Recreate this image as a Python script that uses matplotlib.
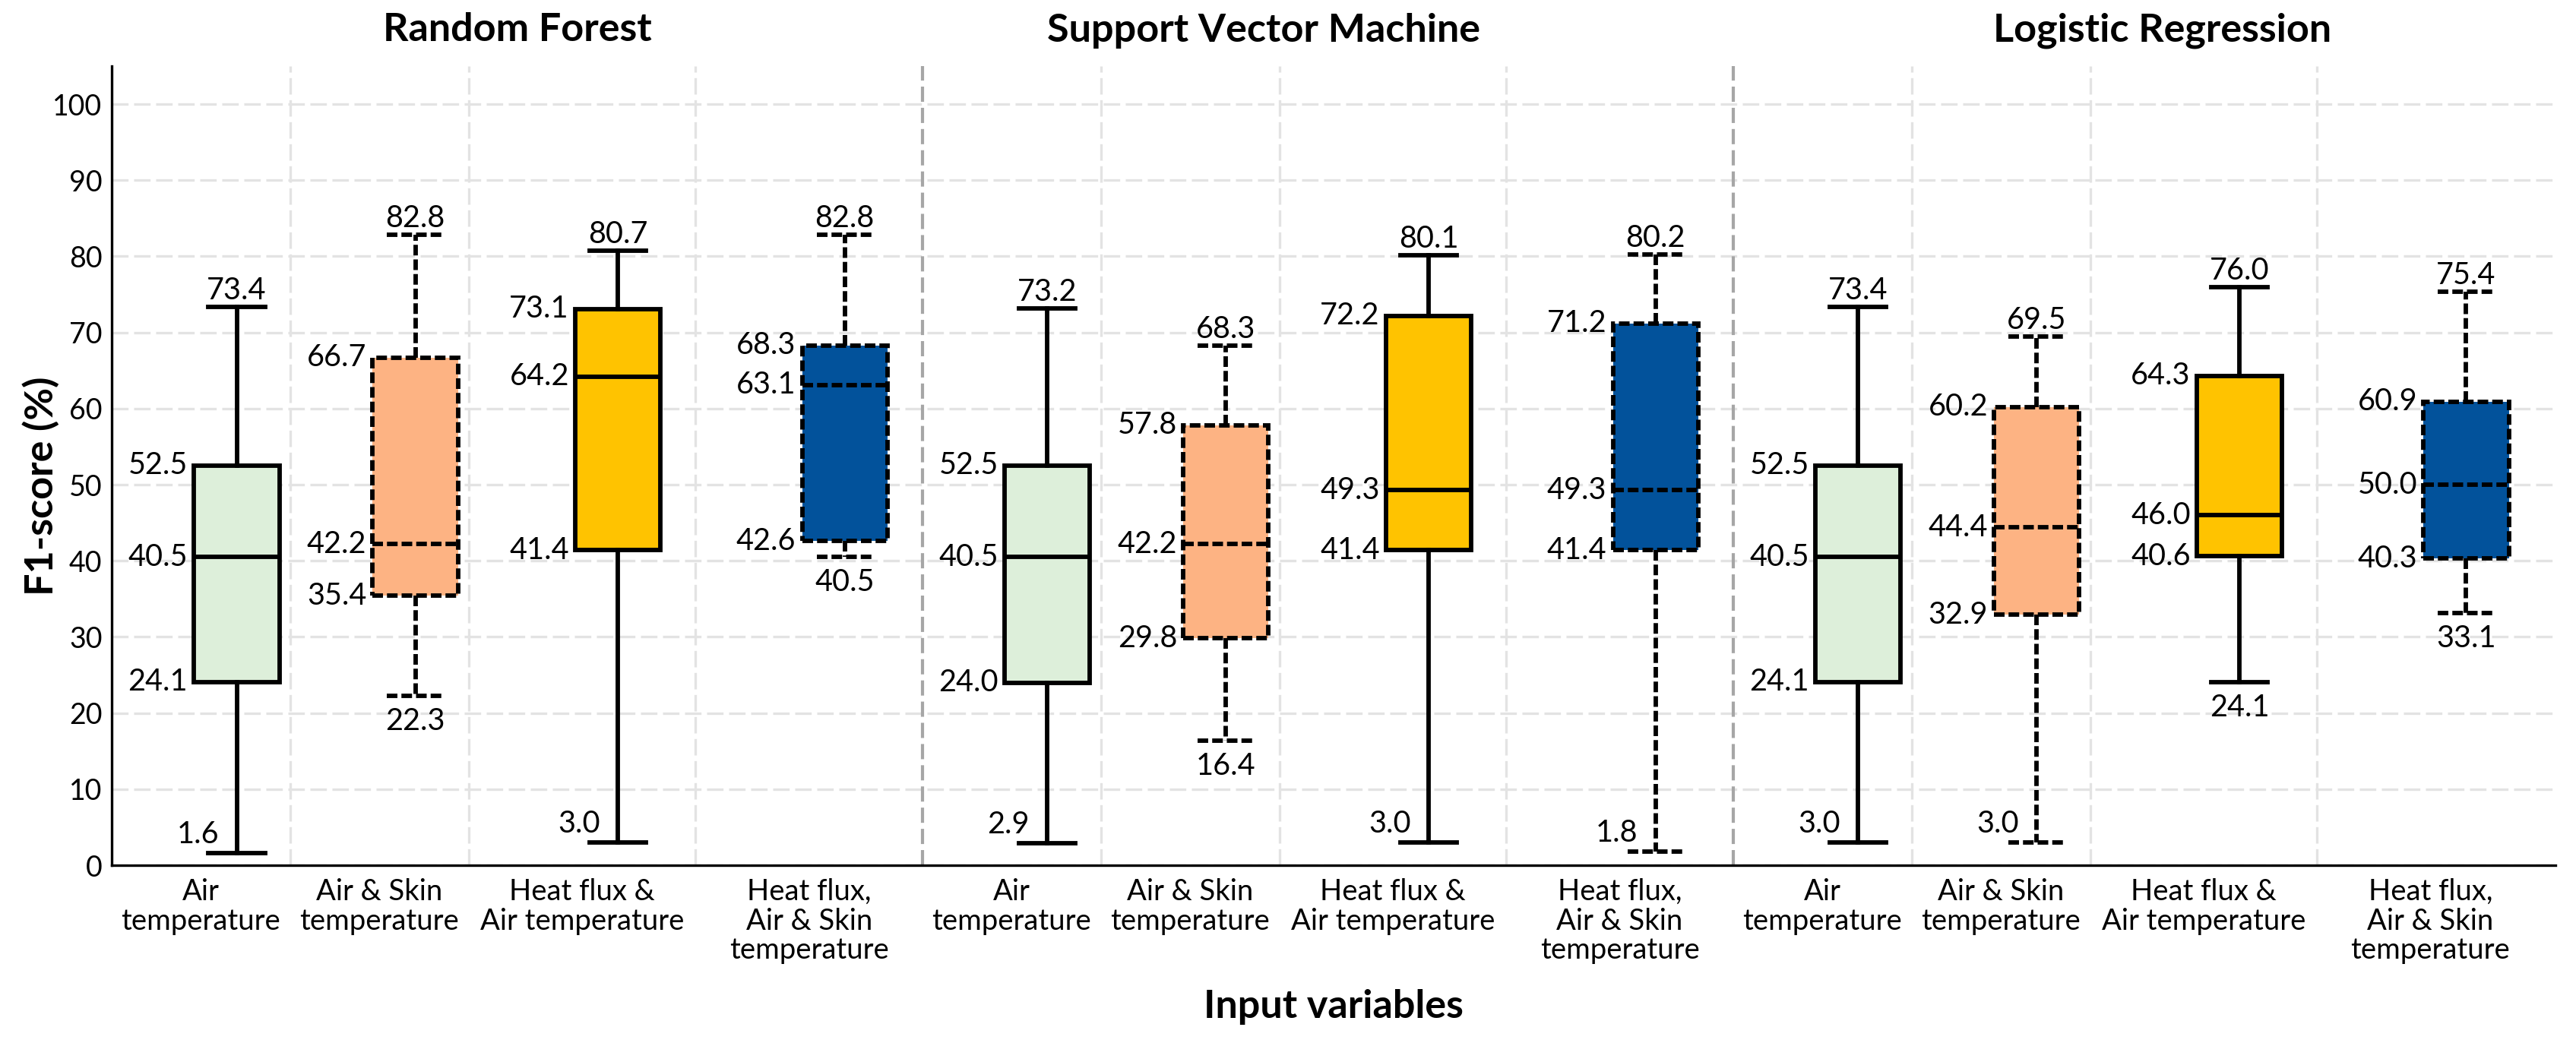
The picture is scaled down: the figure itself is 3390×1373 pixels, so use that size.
import numpy as np
import matplotlib.pyplot as plt

plt.rcParams['font.family'] = ['Lato', 'DejaVu Sans']

# data: min, q1, median, q3, max per box
models = ["Random Forest", "Support Vector Machine", "Logistic Regression"]
inputs = ["Air\ntemperature", "Air & Skin\ntemperature", "Heat flux &\nAir temperature",
          "Heat flux,\nAir & Skin\ntemperature"]
rf_stats = [[1.6, 24.1, 40.5, 52.5, 73.4],
            [22.3, 35.4, 42.2, 66.7, 82.8],
            [3.0, 41.4, 64.2, 73.1, 80.7],
            [40.5, 42.6, 63.1, 68.3, 82.8]]
svm_stats = [[2.9, 24.0, 40.5, 52.5, 73.2],
             [16.4, 29.8, 42.2, 57.8, 68.3],
             [3.0, 41.4, 49.3, 72.2, 80.1],
             [1.8, 41.4, 49.3, 71.2, 80.2]]
lr_stats = [[3.0, 24.1, 40.5, 52.5, 73.4],
            [3.0, 32.9, 44.4, 60.2, 69.5],
            [24.1, 40.6, 46.0, 64.3, 76.0],
            [33.1, 40.3, 50.0, 60.9, 75.4]]
colors = ["#ddefda", "#fdb383", "#ffc300", "#02529b"]
dashed = [False, True, False, True]

# layout (x units)
cell_w = [1.0, 1.0, 1.27, 1.27]
group_w = sum(cell_w)
box_off = 0.2
box_w = 0.477
cap_w = 0.315

fig = plt.figure(figsize=(11.3, 1373 / 300), dpi=300)
ax = fig.add_axes([147 / 3390, 1 - 1139 / 1373, (3363 - 147) / 3390, 1052 / 1373])

dash_pat = (0, (2.4, 0.9))
ticks, ticklabels = [], []
all_stats = [rf_stats, svm_stats, lr_stats]
for g, stats in enumerate(all_stats):
    x0 = g * group_w
    edges = x0 + np.concatenate([[0], np.cumsum(cell_w)])
    for i, s in enumerate(stats):
        tick = (edges[i] + edges[i + 1]) / 2
        ticks.append(tick)
        ticklabels.append(inputs[i])
        pos = tick + box_off
        mn, q1, med, q3, mx = s
        ls = dash_pat if dashed[i] else '-'
        lp = dict(color='black', lw=1.4, ls=ls)
        ax.bxp([dict(whislo=mn, q1=q1, med=med, q3=q3, whishi=mx, fliers=[])],
               positions=[pos], widths=box_w, capwidths=cap_w, patch_artist=True,
               showfliers=False,
               boxprops=dict(facecolor=colors[i], edgecolor='black', lw=1.4, ls=ls),
               whiskerprops=lp, capprops=lp, medianprops=lp, manage_ticks=False,
               zorder=3)
        left = pos - box_w / 2 - 0.035
        for v in (q3, med, q1):
            ax.text(left, v, f"{v:.1f}", ha='right', va='center', fontsize=9.5)
        ax.text(pos, mx + 1.0, f"{mx:.1f}", ha='center', va='baseline', fontsize=9.5)
        if mn < 10:
            ax.text(pos - 0.1, mn + 1.3, f"{mn:.1f}", ha='right', va='baseline', fontsize=9.5)
        else:
            ax.text(pos, mn - 1.5, f"{mn:.1f}", ha='center', va='top', fontsize=9.5)
    # light vertical gridlines between inputs
    for e in edges[1:4]:
        ax.axvline(e, color='#e3e3e3', lw=0.8, ls=(0, (6.5, 2.2)), zorder=0)
    if g < 2:
        ax.axvline(edges[4], color='#a6a6a6', lw=1.0, ls=(0, (4.8, 1.9)), zorder=1)

ax.set_xlim(0, (3363 - 147) / 235)
ax.set_ylim(0, 105)
ax.set_yticks(np.arange(0, 101, 10))
ax.set_xticks(ticks)
ax.set_xticklabels(ticklabels, fontsize=9.2, linespacing=1.1)
ax.tick_params(axis='y', length=0, labelsize=9, pad=3)
ax.tick_params(axis='x', length=0, pad=4)
ax.yaxis.grid(True, color='#e3e3e3', lw=0.8, ls=(0, (6.5, 2.2)))
ax.set_axisbelow(True)
for sp in ['top', 'right']:
    ax.spines[sp].set_visible(False)
for sp in ['left', 'bottom']:
    ax.spines[sp].set_linewidth(0.8)

title_x = [681, 1663, 2846]
for m, tx in zip(models, title_x):
    fig.text(tx / 3390, 1 - 40 / 1373, m, ha='center', va='center', fontsize=12.5,
             fontweight='bold')
fig.text(54 / 3390, 1 - 640 / 1373, "F1-score (%)", rotation=90, ha='center', va='center',
         fontsize=12.5, fontweight='bold')
fig.text(1755 / 3390, 1 - 1325 / 1373, "Input variables", ha='center', va='center',
         fontsize=12.5, fontweight='bold')

fig.savefig("out.png", dpi=300)
